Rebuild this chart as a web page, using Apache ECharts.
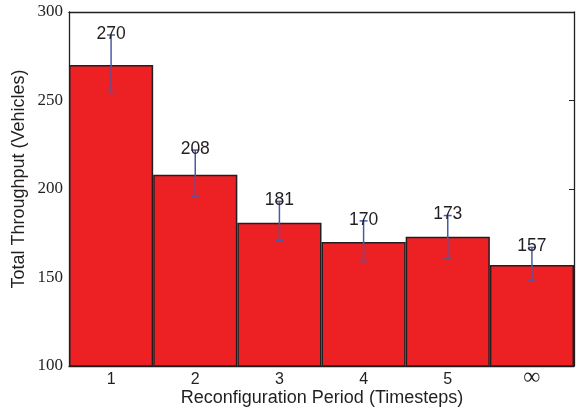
<!DOCTYPE html>
<html><head><meta charset="utf-8">
<script src="https://cdn.jsdelivr.net/npm/echarts@6/dist/echarts.min.js"></script>
<style>html,body{margin:0;padding:0;background:#fff}#c{width:581px;height:410px}</style>
</head><body><div id="c"></div>
<script>
const categories = ['1','2','3','4','5','\u221E'];
const values = [270, 208, 181, 170, 173, 157];
const errLow = [255, 196, 171, 159, 161, 148];
const errHigh = [287, 222, 193, 182, 185, 167];
const yTicks = [100, 150, 200, 250, 300];

const chart = echarts.init(document.getElementById('c'));
const errData = categories.map((c,i)=>[i, errLow[i], errHigh[i], values[i]]);
chart.setOption({
  animation:false,
  grid:{left:69,right:7,top:12,bottom:44},
  graphic:[
    {type:'text', x:19, y:179, rotation:Math.PI/2, style:{text:'Total Throughput (Vehicles)', fill:'#231F20',
      font:'18px "Liberation Sans"', align:'center', verticalAlign:'middle'}},
    {type:'text', x:322, y:398, style:{text:'Reconfiguration Period (Timesteps)', fill:'#231F20',
      font:'18px "Liberation Sans"', align:'center', verticalAlign:'middle'}}
  ],
  xAxis:[{
    type:'category', data:categories, boundaryGap:true,
    axisLine:{lineStyle:{color:'#231F20',width:1.3}},
    axisTick:{inside:true,alignWithLabel:true,length:5,lineStyle:{color:'#231F20'}},
    axisLabel:{color:'#231F20',fontFamily:'Liberation Sans',fontSize:16,margin:6,
      formatter:function(v){ return v === '\u221E' ? '{inf|' + v + '}' : v; },
      rich:{inf:{fontFamily:'Liberation Serif',fontSize:24,color:'#231F20',lineHeight:12}}}
  },{
    type:'category', data:categories, position:'top', boundaryGap:true,
    axisLine:{lineStyle:{color:'#231F20',width:1.3}},
    axisTick:{inside:true,alignWithLabel:true,length:5,lineStyle:{color:'#231F20'}},
    axisLabel:{show:false}
  }],
  yAxis:[{
    type:'value', min:100, max:300, interval:50,
    axisLine:{show:true,lineStyle:{color:'#231F20',width:1.3}},
    axisTick:{show:true,inside:true,length:5,lineStyle:{color:'#231F20'}},
    splitLine:{show:false},
    axisLabel:{color:'#231F20',fontFamily:'Liberation Serif',fontSize:17,margin:6}
  },{
    type:'value', min:100, max:300, interval:50, position:'right',
    axisLine:{show:true,lineStyle:{color:'#231F20',width:1.3}},
    axisTick:{show:true,inside:true,length:5,lineStyle:{color:'#231F20'}},
    splitLine:{show:false}, axisLabel:{show:false}
  }],
  series:[{
    type:'bar', data:values, barCategoryGap:'0%',
    itemStyle:{color:'#ED2024',borderColor:'#231F20',borderWidth:1.5}
  },{
    type:'custom', data:errData, z:5,
    renderItem:function(params, api){
      const x = api.value(0);
      const lo = api.coord([x, api.value(1)]);
      const hi = api.coord([x, api.value(2)]);
      const hw = 4;
      const st = {stroke:'#4A5AA8', lineWidth:1.5};
      return {type:'group', children:[
        {type:'line', shape:{x1:lo[0],y1:lo[1],x2:hi[0],y2:hi[1]}, style:st},
        {type:'line', shape:{x1:lo[0]-hw,y1:lo[1],x2:lo[0]+hw,y2:lo[1]}, style:st},
        {type:'line', shape:{x1:hi[0]-hw,y1:hi[1],x2:hi[0]+hw,y2:hi[1]}, style:st},
        {type:'text', x:hi[0], y:hi[1]-1, style:{text:String(api.value(3)), fill:'#231F20',
          font:'17.5px "Liberation Sans"', align:'center', verticalAlign:'middle'}}
      ]};
    }
  }]
});
</script></body></html>
